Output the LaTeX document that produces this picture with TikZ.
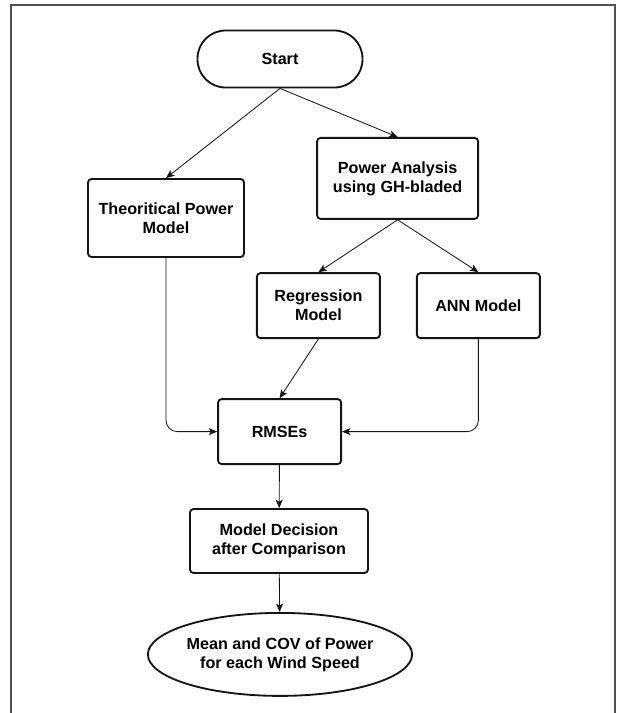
\documentclass[tikz,border=0pt]{standalone}
\usepackage{fontspec}
\setmainfont{Liberation Sans}
\usepackage{tikz}
\usetikzlibrary{shapes.geometric, arrows.meta, positioning}
\definecolor{mydark}{RGB}{20,20,20}
\definecolor{frameclr}{RGB}{80,80,80}
\tikzset{
  block/.style={rectangle, draw=mydark, fill=white,
    align=center, font=\fontsize{11.5}{13.5}\selectfont\bfseries,
    rounded corners=2.5pt, line width=1.3pt, inner sep=0pt},
  term/.style={rectangle, draw=mydark, fill=white,
    align=center, font=\fontsize{11.5}{13.5}\selectfont\bfseries,
    rounded corners=0.7cm, line width=1.3pt, inner sep=0pt},
  endterm/.style={ellipse, draw=mydark, fill=white,
    align=center, font=\fontsize{11.5}{13.5}\selectfont\bfseries,
    line width=1.3pt, inner sep=0pt},
  arrow/.style={-{Stealth[length=6pt, width=5pt, inset=1.5pt]}, line width=0.6pt, color=mydark},
  line/.style={line width=0.6pt, color=mydark}
}

\begin{document}
\begin{tikzpicture}
  \useasboundingbox (0,0) rectangle (15.45,-17.825);
  % frame
  \draw[frameclr, line width=0.9pt] (0.275,-17.825) -- (0.275,-0.125) -- (15.375,-0.125) -- (15.375,-17.825);

  \node[term, minimum width=4.125cm, minimum height=1.425cm] (start) at (7.0,-1.475) {Start};
  \node[block, minimum width=3.9cm, minimum height=1.95cm] (theory) at (4.15,-5.45) {Theoritical Power\\Model};
  \node[block, minimum width=4.025cm, minimum height=2.025cm] (power) at (9.94,-4.46) {Power Analysis\\using GH-bladed};
  \node[block, minimum width=3.075cm, minimum height=1.625cm] (regr) at (7.96,-7.64) {Regression\\Model};
  \node[block, minimum width=3.075cm, minimum height=1.625cm] (ann) at (11.96,-7.64) {ANN Model};
  \node[block, minimum width=3.075cm, minimum height=1.625cm] (rmse) at (6.99,-10.79) {RMSEs};
  \node[block, minimum width=4.45cm, minimum height=1.6cm] (decide) at (6.975,-13.525) {Model Decision\\after Comparison};
  \node[endterm, minimum width=5.95cm, minimum height=2.075cm] (result) at (7.0,-16.36) {Mean and COV of Power\\for each Wind Speed};

  \draw[arrow] (start.south) -- (theory.north);
  \draw[arrow] (start.south) -- (power.north);
  \draw[arrow] (power.south) -- (regr.north);
  \draw[arrow] (power.south) -- (ann.north);
  \draw[arrow, rounded corners=8pt] (theory.south) |- (rmse.west);
  \draw[arrow] (regr.south) -- (rmse.north);
  \draw[arrow, rounded corners=8pt] (ann.south) |- (rmse.east);
  \draw[arrow] (rmse) -- (decide);
  \draw[arrow] (decide) -- (result);
\end{tikzpicture}
\end{document}
